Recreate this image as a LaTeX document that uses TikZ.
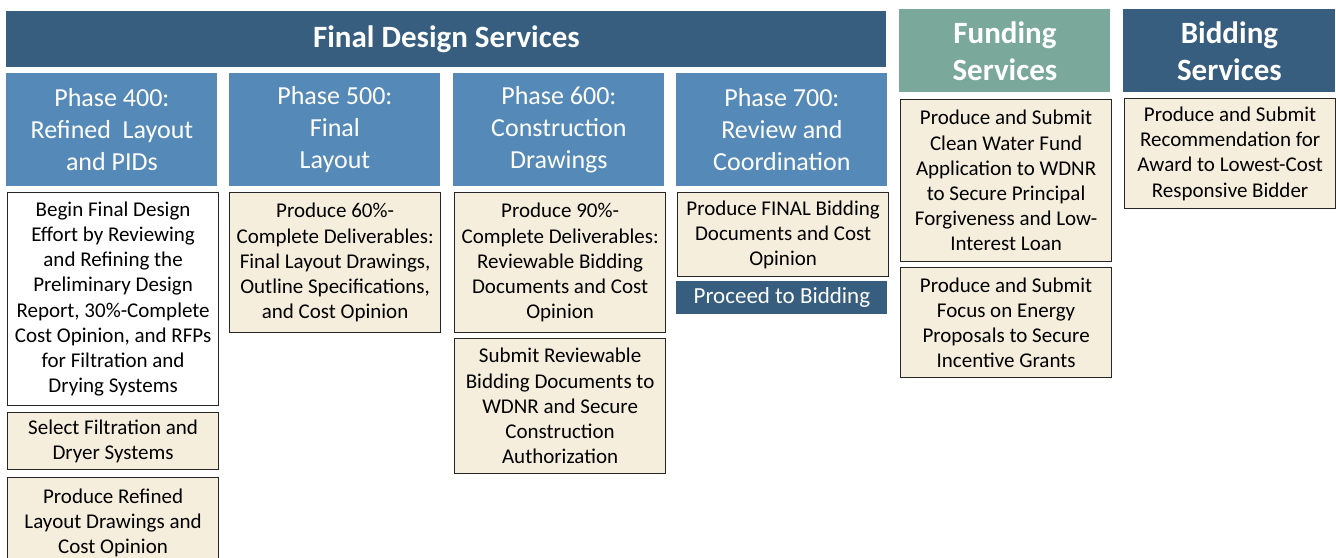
\documentclass[tikz,border=0pt]{standalone}
\usepackage{fontspec}
\setmainfont{Carlito}
\definecolor{navy}{HTML}{375E7E}
\definecolor{phaseblue}{HTML}{558AB8}
\definecolor{teal}{HTML}{7AA89B}
\definecolor{beige}{HTML}{F5EEDD}
\begin{document}
\begin{tikzpicture}[x=0.5pt, y=-0.5pt,
    every node/.style = {inner sep = 0pt, align = center, anchor = north west},
    banner/.style = {fill = navy, text = white, font = \bfseries\fontsize{15.5}{18.5}\selectfont},
    phase/.style = {fill = phaseblue, text = white, minimum width = 105.5pt, minimum height = 56.5pt,
        font = \fontsize{13}{16}\selectfont},
    task/.style = {draw = black!85, line width = 0.6pt, fill = beige, minimum width = 105.5pt,
        font = \fontsize{10.5}{12.6}\selectfont},
    plain/.style = {task, fill = white}]
    \useasboundingbox (0,0) rectangle (1336,557);
    % headers
    \node[banner, minimum width = 440pt, minimum height = 28pt] (final) at (6,11) {Final Design Services};
    \node[banner, fill = teal, minimum width = 105.5pt, minimum height = 41.5pt] (funding) at (899,9) {Funding\\Services};
    \node[banner, minimum width = 106pt, minimum height = 41.5pt] (bidding) at (1123,9) {Bidding\\Services};
    \node[phase] (p400) at (6,73) {Phase 400:\\Refined\ \ Layout\\and PIDs};
    \node[phase] (p500) at (229,73) {Phase 500:\\Final\\Layout};
    \node[phase] (p600) at (453,73) {Phase 600:\\Construction\\Drawings};
    \node[phase] (p700) at (676,73) {Phase 700:\\Review and\\Coordination};
    % phase 400
    \node[plain, minimum height = 106.5pt] (begin) at (7,192) {Begin Final Design\\Effort by Reviewing\\and Refining the\\Preliminary Design\\Report, 30\%-Complete\\Cost Opinion, and RFPs\\for Filtration and\\Drying Systems};
    \node[task, minimum height = 28.5pt] (select) at (7,412) {Select Filtration and\\Dryer Systems};
    \node[task, minimum height = 45pt] (refined) at (7,477) {Produce Refined\\Layout Drawings and\\Cost Opinion};
    % phase 500
    \node[task, minimum height = 70pt] (sixty) at (229,192) {Produce 60\%-\\Complete Deliverables:\\Final Layout Drawings,\\Outline Specifications,\\and Cost Opinion};
    % phase 600
    \node[task, minimum height = 70pt] (ninety) at (454,192) {Produce 90\%-\\Complete Deliverables:\\Reviewable Bidding\\Documents and Cost\\Opinion};
    \node[task, minimum height = 67.5pt] (submit) at (454,338) {Submit Reviewable\\Bidding Documents to\\WDNR and Secure\\Construction\\Authorization};
    % phase 700
    \node[task, minimum height = 42pt] (final bid) at (677,192) {Produce FINAL Bidding\\Documents and Cost\\Opinion};
    \node[fill = navy, text = white, minimum width = 105.5pt, minimum height = 16.5pt,
        font = \fontsize{11.5}{13}\selectfont] (proceed) at (676,281) {Proceed to Bidding};
    % funding and bidding
    \node[task, minimum height = 81pt] (cwf) at (900,99) {Produce and Submit\\Clean Water Fund\\Application to WDNR\\to Secure Principal\\Forgiveness and Low-\\Interest Loan};
    \node[task, minimum height = 55pt] (foe) at (900,267) {Produce and Submit\\Focus on Energy\\Proposals to Secure\\Incentive Grants};
    \node[task, minimum height = 55pt] (award) at (1124,98) {Produce and Submit\\Recommendation for\\Award to Lowest-Cost\\Responsive Bidder};
\end{tikzpicture}
\end{document}
